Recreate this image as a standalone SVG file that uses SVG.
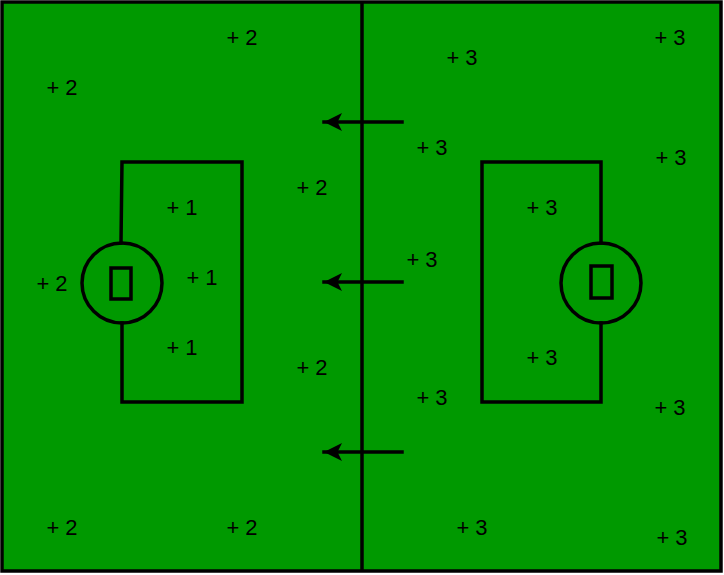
<svg xmlns="http://www.w3.org/2000/svg" width="724" height="575" viewBox="0 0 724 575">
<style>
.ln{fill:none;stroke:#000;stroke-width:3.5;stroke-linecap:square}
.t{font-family:"Liberation Sans",Arial,sans-serif;font-size:22px;fill:#000;text-anchor:middle}
</style>
<defs>
<marker id="ah" viewBox="0 0 20 20" refX="19" refY="10" markerWidth="20" markerHeight="20" markerUnits="userSpaceOnUse" orient="auto">
<path d="M19,10 L1,1 L5.5,10 L1,19 Z" fill="#000"/>
</marker>
</defs>
<rect x="0" y="0" width="724" height="575" fill="#fff"/>
<g id="field">
<rect x="2" y="2" width="719" height="569" fill="#009900" stroke="#000" stroke-width="3.5"/>
<line class="ln" x1="362" y1="3" x2="362" y2="570"/>
</g>
<g id="left-goal">
<path class="ln" d="M121,243 L122,162 L242,162 L242,402 L122,402 L122,323"/>
<circle class="ln" cx="122" cy="283" r="40"/>
<rect class="ln" x="111" y="268" width="20" height="31"/>
</g>
<g id="right-goal">
<path class="ln" d="M601,243 L601,162 L482,162 L482,402 L601,402 L601,323"/>
<circle class="ln" cx="601" cy="283" r="40"/>
<rect class="ln" x="591" y="266" width="21" height="32"/>
</g>
<g id="connectors">
<line class="ln" x1="402" y1="122" x2="324" y2="122" stroke-linecap="butt" marker-end="url(#ah)"/>
<line class="ln" x1="402" y1="282" x2="324" y2="282" stroke-linecap="butt" marker-end="url(#ah)"/>
<line class="ln" x1="402" y1="452" x2="324" y2="452" stroke-linecap="butt" marker-end="url(#ah)"/>
</g>
<g id="labels">
<text class="t" x="62" y="95">+ 2</text>
<text class="t" x="242" y="45">+ 2</text>
<text class="t" x="312" y="195">+ 2</text>
<text class="t" x="52" y="291">+ 2</text>
<text class="t" x="312" y="375">+ 2</text>
<text class="t" x="62" y="535">+ 2</text>
<text class="t" x="242" y="535">+ 2</text>
<text class="t" x="182" y="215">+ 1</text>
<text class="t" x="202" y="285">+ 1</text>
<text class="t" x="182" y="355">+ 1</text>
<text class="t" x="462" y="65">+ 3</text>
<text class="t" x="670" y="45">+ 3</text>
<text class="t" x="432" y="155">+ 3</text>
<text class="t" x="671" y="165">+ 3</text>
<text class="t" x="542" y="215">+ 3</text>
<text class="t" x="422" y="267">+ 3</text>
<text class="t" x="542" y="365">+ 3</text>
<text class="t" x="432" y="405">+ 3</text>
<text class="t" x="670" y="415">+ 3</text>
<text class="t" x="472" y="535">+ 3</text>
<text class="t" x="672" y="545">+ 3</text>
</g>
</svg>
